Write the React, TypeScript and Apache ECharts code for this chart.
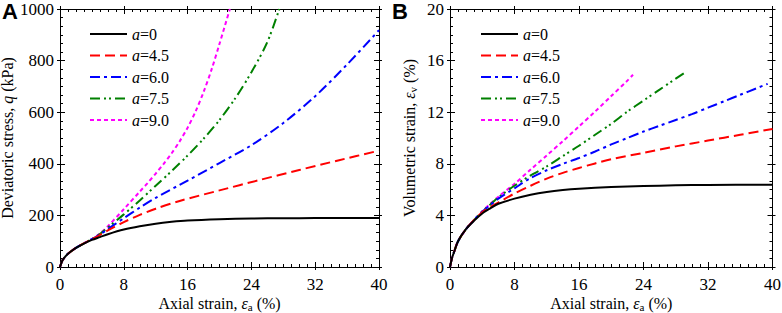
import React, { useEffect, useRef } from 'react';
import * as echarts from 'echarts';

const FONT = "Liberation Serif, Times New Roman, serif";

const seriesNames = ['a=0', 'a=4.5', 'a=6.0', 'a=7.5', 'a=9.0'];
const seriesColors = ['#000000', '#ff0000', '#0000ff', '#008000', '#ff00ff'];
const dashTypes: any[] = ['solid', [10, 5], [10, 4, 3, 4], [10, 4, 2, 3, 2, 4], [4, 3]];

const strainTicks = { min: 0, max: 40, interval: 8 };
const qTicks = { min: 0, max: 1000, interval: 200 };
const vTicks = { min: 0, max: 20, interval: 4 };

// Deviatoric stress q (kPa) vs axial strain (%)
const qA0 = [[0, 0], [0.25, 22], [0.5, 34], [1, 51], [2, 74], [3, 91], [4, 105], [5, 116], [6, 127], [8, 145], [10, 158], [12, 168], [14, 175], [16, 180], [20, 185], [24, 188], [28, 189], [32, 189.5], [40, 190]];
const qA45 = [[0, 0], [0.25, 22], [0.5, 34], [1, 51], [2, 74], [3, 92], [4, 108], [5, 124], [6, 142], [8, 174], [10, 202], [12, 226], [15, 256], [20, 297], [25, 337], [30, 376], [35, 414], [40, 451]];
const qA60 = [[0, 0], [0.25, 22], [0.5, 34], [1, 51], [2, 74], [3, 92], [4, 108], [5, 126], [6, 147], [8, 189], [10, 230], [12, 268], [16, 335], [20, 403], [24, 472], [28, 558], [32, 662], [36, 785], [40, 918]];
const qA75 = [[0, 0], [0.25, 22], [0.5, 34], [1, 51], [2, 74], [3, 92], [4, 108], [5, 128], [6, 153], [8, 204], [10, 258], [12, 315], [14, 372], [16, 432], [18, 497], [20, 570], [22, 655], [24, 755], [26, 872], [27.5, 1000]];
const qA90 = [[0, 0], [0.25, 22], [0.5, 34], [1, 51], [2, 74], [3, 92], [4, 108], [5, 130], [6, 158], [8, 224], [10, 292], [11, 326], [12, 362], [13, 400], [14, 441], [15, 487], [16, 540], [17, 603], [18, 678], [19, 765], [20, 865], [21.3, 1000]];

// Volumetric strain (%) vs axial strain (%)
const vA0 = [[0, 0], [0.25, 0.7], [0.5, 1.15], [1, 2.0], [2, 2.95], [3, 3.6], [4, 4.15], [5, 4.55], [6, 4.9], [8, 5.3], [10, 5.6], [12, 5.82], [14, 5.97], [16, 6.07], [20, 6.2], [24, 6.28], [28, 6.33], [32, 6.36], [40, 6.38]];
const vA45 = [[0, 0], [0.25, 0.7], [0.5, 1.15], [1, 2.0], [2, 2.95], [3, 3.65], [4, 4.25], [5, 4.65], [6, 5.0], [8, 5.7], [10, 6.3], [12, 6.85], [14, 7.3], [16, 7.68], [18, 8.03], [20, 8.35], [24, 8.85], [28, 9.35], [32, 9.8], [36, 10.25], [40, 10.7]];
const vA60 = [[0, 0], [0.25, 0.7], [0.5, 1.15], [1, 2.0], [2, 2.95], [3, 3.65], [4, 4.28], [5, 4.8], [6, 5.3], [8, 6.1], [10, 6.9], [12, 7.5], [14, 8.0], [16, 8.45], [18, 8.95], [20, 9.5], [22, 10.0], [24, 10.5], [26, 10.95], [28, 11.4], [30, 11.85], [32, 12.35], [34, 12.85], [36, 13.35], [38, 13.85], [39.4, 14.2]];
const vA75 = [[0, 0], [0.25, 0.7], [0.5, 1.15], [1, 2.0], [2, 2.95], [3, 3.65], [4, 4.3], [5, 4.85], [6, 5.4], [8, 6.3], [10, 7.1], [12, 7.8], [14, 8.6], [16, 9.4], [18, 10.25], [20, 11.1], [22, 12.05], [24, 12.9], [26, 13.75], [28, 14.6], [29.2, 15.1]];
const vA90 = [[0, 0], [0.25, 0.7], [0.5, 1.15], [1, 2.0], [2, 2.95], [3, 3.65], [4, 4.32], [5, 4.9], [6, 5.45], [8, 6.45], [10, 7.55], [12, 8.65], [14, 9.75], [16, 10.9], [18, 12.05], [20, 13.25], [22, 14.45], [22.7, 14.9]];

const qData = [qA0, qA45, qA60, qA75, qA90];
const vData = [vA0, vA45, vA60, vA75, vA90];

const xName = 'Axial strain, {i|ε}{sub|a} (%)';
const qName = 'Deviatoric stress, {i|q} (kPa)';
const vName = 'Volumetric strain, {i|ε}{sub|v} (%)';

const nameStyle = {
  fontSize: 16,
  fontFamily: FONT,
  color: '#000',
  lineHeight: 18,
  rich: {
    i: { fontStyle: 'italic', fontSize: 16, fontFamily: FONT, color: '#000', lineHeight: 18 },
    sub: { fontSize: 11, fontFamily: FONT, color: '#000', lineHeight: 8, verticalAlign: 'bottom' },
  },
};

const black = { color: '#000', width: 1 };

function axisSet(dim: 'x' | 'y', grid: number, ticks: any, minorSplit: number, name: string | null, nameGap: number) {
  const sides = dim === 'x' ? ['bottom', 'top'] : ['left', 'right'];
  const base = { type: 'value', gridIndex: grid, ...ticks, splitLine: { show: false } };
  const out: any[] = [];
  sides.forEach((pos, k) => {
    const main: any = {
      ...base,
      position: pos,
      name: k === 0 && name ? name : undefined,
      nameLocation: 'middle',
      nameGap,
      nameTextStyle: nameStyle,
      axisLine: { show: true, onZero: false, lineStyle: black },
      axisTick: { show: true, inside: true, length: 5, lineStyle: black },
      minorTick: { show: true, splitNumber: minorSplit, length: 3, lineStyle: black },
      axisLabel: k === 0
        ? { show: true, color: '#000', fontSize: 17, fontFamily: FONT, margin: dim === 'x' ? 9 : 6, formatter: (v: number) => String(v) }
        : { show: false },
    };
    if (dim === 'x') main.nameMoveOverlap = false;
    out.push(main);
    out.push({
      ...base,
      position: pos,
      axisLine: { show: true, onZero: false, lineStyle: black },
      axisTick: { show: true, inside: false, length: 3, lineStyle: black },
      minorTick: { show: false },
      axisLabel: { show: false },
    });
  });
  return out;
}

function legendFor(left: number) {
  return {
    data: seriesNames,
    orient: 'vertical',
    left,
    top: 26,
    padding: 0,
    itemWidth: 37,
    itemHeight: 10,
    itemGap: 5.5,
    selectedMode: false,
    itemStyle: { color: 'transparent', borderColor: 'transparent', borderWidth: 0, opacity: 0 },
    textStyle: {
      fontSize: 16,
      fontFamily: FONT,
      color: '#000',
      lineHeight: 16,
      rich: { i: { fontStyle: 'italic', fontSize: 16, fontFamily: FONT, color: '#000', lineHeight: 16 } },
    },
    formatter: (n: string) => '{i|a}' + n.slice(1),
  };
}

export default function App() {
  const ref = useRef<HTMLDivElement>(null);
  useEffect(() => {
    if (!ref.current) return;
    const chart = echarts.init(ref.current, null, { renderer: 'svg' });
    const series: any[] = [];
    [qData, vData].forEach((set, g) => {
      set.forEach((d, i) => {
        series.push({
          type: 'line',
          name: seriesNames[i],
          xAxisIndex: g * 4,
          yAxisIndex: g * 4,
          data: d,
          symbol: 'none',
          smooth: 0.3,
          lineStyle: { color: seriesColors[i], width: 2, type: dashTypes[i] },
          itemStyle: { color: seriesColors[i] },
          z: 10 - i,
        });
      });
    });
    chart.setOption({
      animation: false,
      backgroundColor: '#fff',
      grid: [
        { left: 60, top: 9, width: 319, height: 258, outerBoundsMode: 'none', containLabel: false },
        { left: 450, top: 9, width: 322.5, height: 258, outerBoundsMode: 'none', containLabel: false },
      ],
      xAxis: [
        ...axisSet('x', 0, strainTicks, 8, xName, 27),
        ...axisSet('x', 1, strainTicks, 8, xName, 27),
      ],
      yAxis: [
        ...axisSet('y', 0, qTicks, 6, qName, 44),
        ...axisSet('y', 1, vTicks, 6, vName, 32),
      ],
      legend: [legendFor(89), legendFor(480)],
      graphic: [
        { type: 'text', left: 2, top: 0, style: { text: 'A', fontSize: 22, fontWeight: 'bold', fontFamily: "Liberation Sans, Arial, sans-serif", fill: '#000' } },
        { type: 'text', left: 392, top: 0, style: { text: 'B', fontSize: 22, fontWeight: 'bold', fontFamily: "Liberation Sans, Arial, sans-serif", fill: '#000' } },
      ],
      series,
    });
    return () => chart.dispose();
  }, []);
  return <div ref={ref} style={{ position: 'fixed', left: 0, top: 0, width: 782, height: 313 }} />;
}
